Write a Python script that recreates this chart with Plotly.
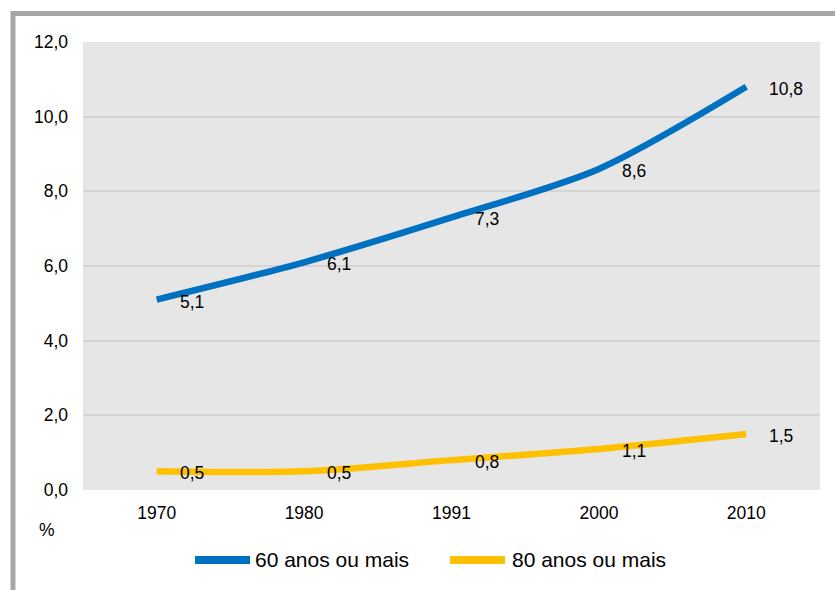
import plotly.graph_objects as go

years = ["1970", "1980", "1991", "2000", "2010"]
idosos_60 = [5.1, 6.1, 7.3, 8.6, 10.8]
idosos_80 = [0.5, 0.5, 0.8, 1.1, 1.5]
series_names = ["60 anos ou mais", "80 anos ou mais"]
colors = ["#0070C0", "#FFC000"]

FONT = "Liberation Sans, Arial, sans-serif"
TS = 17.5

fig = go.Figure()
for name, vals, col in zip(series_names, [idosos_60, idosos_80], colors):
    fig.add_trace(go.Scatter(
        x=years, y=vals, mode="lines", name=name,
        line=dict(color=col, width=6.5, shape="spline", smoothing=0.8),
        showlegend=False, hoverinfo="skip"))

annotations = []
for vals in [idosos_60, idosos_80]:
    for i, v in enumerate(vals):
        annotations.append(dict(
            x=i, y=v, xref="x", yref="y", text=f"{v:.1f}".replace(".", ","),
            showarrow=False, xanchor="left", yanchor="middle", xshift=21, yshift=-2,
            font=dict(family=FONT, size=TS, color="#000000")))

annotations.append(dict(x=-0.049, y=-0.089, xref="paper", yref="paper", text="%",
                        showarrow=False, xanchor="center", yanchor="middle",
                        font=dict(family=FONT, size=TS, color="#000000")))

shapes = [
    dict(type="rect", xref="paper", yref="paper", x0=-0.095, y0=-0.4, x1=1.2, y1=1.0636,
         line=dict(color="#A6A6A6", width=5), fillcolor="rgba(0,0,0,0)", layer="above"),
]

# manual legend
leg_y = -0.156
leg_items = [(0.152, 0.2266, 0.2307), (0.498, 0.5726, 0.579)]
for (x0, x1, xt), name, col in zip(leg_items, series_names, colors):
    shapes.append(dict(type="line", xref="paper", yref="paper", x0=x0, x1=x1, y0=leg_y, y1=leg_y,
                       line=dict(color=col, width=8)))
    annotations.append(dict(x=xt, y=leg_y, xref="paper", yref="paper", text=name,
                            showarrow=False, xanchor="left", yanchor="middle",
                            font=dict(family=FONT, size=21, color="#000000")))

fig.update_layout(
    width=835, height=590,
    margin=dict(l=83, r=15, t=42, b=100),
    paper_bgcolor="#FFFFFF", plot_bgcolor="#E6E6E6",
    separators=",.",
    showlegend=False,
    annotations=annotations, shapes=shapes,
    xaxis=dict(type="category", categoryarray=years, categoryorder="array",
               range=[-0.5, len(years) - 0.5], autorange=False,
               showgrid=False, zeroline=False, showline=False, ticks="",
               tickfont=dict(family=FONT, size=TS, color="#000000"), ticklabelstandoff=10),
    yaxis=dict(range=[0, 12], autorange=False, dtick=2, tickformat=".1f", showgrid=True,
               gridcolor="#D4D4D4", gridwidth=1.5, zeroline=False, showline=False, ticks="",
               tickfont=dict(family=FONT, size=TS, color="#000000"), ticklabelstandoff=14),
)

fig.write_html("out.html", config={"displayModeBar": False},
               post_script="document.body.style.margin='0px';")
